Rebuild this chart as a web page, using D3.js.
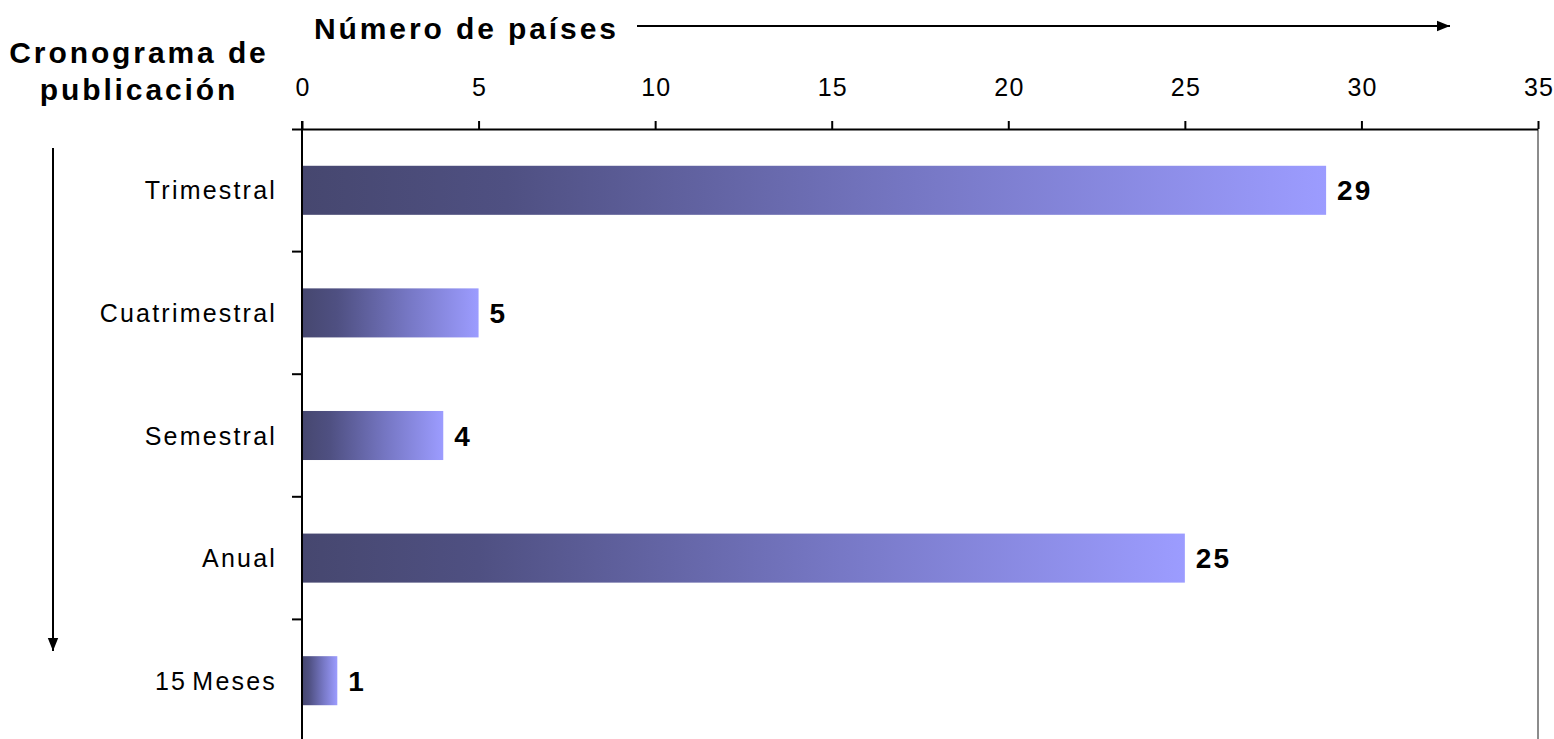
<!DOCTYPE html>
<html><head><meta charset="utf-8">
<script src="https://cdn.jsdelivr.net/npm/d3@7"></script>
<style>body{margin:0;background:#fff}svg{display:block}text{font-family:"Liberation Sans",Arial,sans-serif}</style>
</head><body>
<svg id="c" width="1554" height="739"></svg>
<script>
const categories = ["Trimestral","Cuatrimestral","Semestral","Anual","15 Meses"];
const values = [29,5,4,25,1];
const xTicks = [0,5,10,15,20,25,30,35];
const xTitle = "Número de países";
const yTitle = ["Cronograma de","publicación"];

const svg = d3.select("#c");
const x = d3.scaleLinear().domain([0,35]).range([302,1538]);
const y = d3.scaleBand().domain(categories).range([129,742]).paddingInner(0.6).paddingOuter(0.3);

const defs = svg.append("defs");
const g = defs.append("linearGradient").attr("id","grad").attr("x1","0").attr("x2","1").attr("y1","0").attr("y2","0");
g.append("stop").attr("offset","0%").attr("stop-color","#46476f");
g.append("stop").attr("offset","20%").attr("stop-color","#4f5082");
g.append("stop").attr("offset","60%").attr("stop-color","#7677c4");
g.append("stop").attr("offset","100%").attr("stop-color","#9c9cff");

// right gray border
svg.append("line").attr("x1",x(35)).attr("x2",x(35)).attr("y1",129).attr("y2",739)
  .attr("stroke","#8c8c8c").attr("stroke-width",2);

// bars
svg.selectAll("rect.bar").data(categories).join("rect").attr("class","bar")
  .attr("x",x(0)).attr("y",d=>y(d)).attr("height",y.bandwidth())
  .attr("width",(d,i)=>x(values[i])-x(0)).attr("fill","url(#grad)");

// value labels
svg.selectAll("text.val").data(categories).join("text").attr("class","val")
  .attr("x",(d,i)=>x(values[i])+11).attr("y",d=>y(d)+y.bandwidth()/2)
  .attr("dy","0.36em").attr("font-size",28).attr("font-weight","bold").attr("letter-spacing",2).attr("fill","#000")
  .text((d,i)=>values[i]);

// top axis
const xa = d3.axisTop(x).tickValues(xTicks).tickSize(8).tickPadding(25).tickFormat(d3.format("d"));
const gx = svg.append("g").attr("transform","translate(0,129)").call(xa);
gx.select(".domain").attr("stroke","#000").attr("stroke-width",2).attr("d",`M292,0.5H${x(35)}`);
gx.selectAll(".tick line").attr("stroke","#000").attr("stroke-width",2);
gx.selectAll(".tick text").attr("font-size",25).attr("letter-spacing",1.2).attr("dx",0.6).attr("fill","#000")
  .attr("font-family","Liberation Sans, Arial, sans-serif");

// left axis: line + boundary ticks
const step = y.step();
const boundaries = d3.range(categories.length+1).map(i=>129+i*step);
svg.append("line").attr("x1",302).attr("x2",302).attr("y1",121).attr("y2",739).attr("stroke","#000").attr("stroke-width",2);
svg.selectAll("line.yt").data(boundaries.slice(1)).join("line").attr("class","yt")
  .attr("x1",292).attr("x2",302).attr("y1",d=>d).attr("y2",d=>d).attr("stroke","#000").attr("stroke-width",2);

// category labels
svg.selectAll("text.cat").data(categories).join("text").attr("class","cat")
  .attr("x",277).attr("y",d=>y(d)+y.bandwidth()/2).attr("dy","0.36em")
  .attr("text-anchor","end").attr("font-size",25).attr("letter-spacing",2.2).attr("word-spacing",-4).attr("fill","#000").text(d=>d);

// arrow markers
defs.append("marker").attr("id","ah").attr("viewBox","0 0 10 10").attr("refX",10).attr("refY",5)
  .attr("markerWidth",13).attr("markerHeight",13).attr("markerUnits","userSpaceOnUse").attr("orient","auto")
  .append("path").attr("d","M0,1L10,5L0,9Z").attr("fill","#000");

// x title + arrow
svg.append("text").attr("x",314).attr("y",39).attr("font-size",30).attr("font-weight","bold").attr("letter-spacing",2.9).text(xTitle);
svg.append("line").attr("x1",637).attr("x2",1450).attr("y1",26).attr("y2",26).attr("stroke","#000").attr("stroke-width",2).attr("marker-end","url(#ah)");

// y title + arrow
svg.append("text").attr("text-anchor","middle").attr("font-size",30).attr("font-weight","bold").attr("letter-spacing",2.9)
  .selectAll("tspan").data(yTitle).join("tspan").attr("x",139).attr("y",(d,i)=>63+i*37).text(d=>d);
svg.append("line").attr("x1",53).attr("x2",53).attr("y1",148).attr("y2",651).attr("stroke","#000").attr("stroke-width",2).attr("marker-end","url(#ah)");
</script>
</body></html>
